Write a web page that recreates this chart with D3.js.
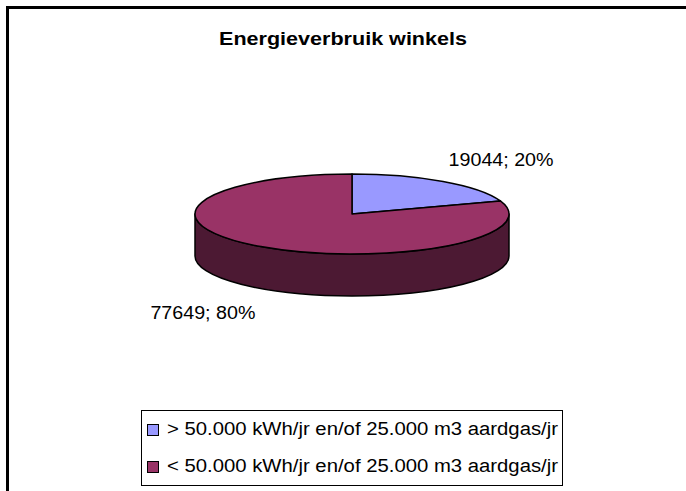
<!DOCTYPE html>
<html>
<head>
<meta charset="utf-8">
<script src="https://cdn.jsdelivr.net/npm/d3@7"></script>
<style>
  body { margin: 0; background: #fff; }
  svg { display: block; font-family: "Liberation Sans", Arial, sans-serif; }
</style>
</head>
<body>
<svg id="chart" width="686" height="491"></svg>
<script>
// data
var categories = ["> 50.000 kWh/jr en/of 25.000 m3 aardgas/jr", "< 50.000 kWh/jr en/of 25.000 m3 aardgas/jr"];
var values = [19044, 77649];
var percentLabels = ["20%", "80%"];
var colors = ["#9999FF", "#993366"];
var sideColors = ["#4C4C80", "#4C1933"];

var svg = d3.select("#chart");

// outer frame
svg.append("rect")
    .attr("x", 7.5).attr("y", 7.5)
    .attr("width", 720).attr("height", 520)
    .attr("fill", "#fff")
    .attr("stroke", "#000")
    .attr("stroke-width", 3);

svg.append("text")
    .attr("x", 343).attr("y", 45)
    .attr("text-anchor", "middle")
    .attr("font-size", 18)
    .attr("font-weight", "bold")
    .attr("textLength", 248)
    .attr("lengthAdjust", "spacingAndGlyphs")
    .text("Energieverbruik winkels");

// 3d pie geometry
var cx = 352, cy = 214, rx = 157, ry = 40, depth = 42;

var pie = d3.pie().sort(null).value(d => d);
var arcs = pie(values);

function pt(a, dy) {
    return [cx + rx * Math.sin(a), cy - ry * Math.cos(a) + (dy || 0)];
}

function topPath(d) {
    var p0 = pt(d.startAngle), p1 = pt(d.endAngle);
    var large = d.endAngle - d.startAngle > Math.PI ? 1 : 0;
    return "M" + cx + "," + cy + "L" + p0 + "A" + rx + "," + ry + " 0 " + large + " 1 " + p1 + "Z";
}

function sidePath(d) {
    // only the front half (pi/2 .. 3pi/2) is visible
    var s = Math.max(d.startAngle, Math.PI / 2),
        e = Math.min(d.endAngle, 3 * Math.PI / 2);
    if (e <= s) return null;
    var a = pt(s), b = pt(e), b2 = pt(e, depth), a2 = pt(s, depth);
    return "M" + a + "A" + rx + "," + ry + " 0 0 1 " + b +
        "L" + b2 + "A" + rx + "," + ry + " 0 0 0 " + a2 + "Z";
}

var g = svg.append("g");

g.selectAll(".side")
    .data(arcs.filter(d => sidePath(d)))
    .enter().append("path")
    .attr("class", "side")
    .attr("d", sidePath)
    .attr("fill", d => sideColors[d.index])
    .attr("stroke", "#000")
    .attr("stroke-width", 1.5)
    .attr("stroke-linejoin", "round");

g.selectAll(".top")
    .data(arcs)
    .enter().append("path")
    .attr("class", "top")
    .attr("d", topPath)
    .attr("fill", d => colors[d.index])
    .attr("stroke", "#000")
    .attr("stroke-width", 1.5)
    .attr("stroke-linejoin", "round");

// data labels
g.selectAll(".lbl")
    .data(arcs)
    .enter().append("text")
    .attr("class", "lbl")
    .attr("x", d => {
        var m = (d.startAngle + d.endAngle) / 2;
        return cx + (rx + 100) * Math.sin(m);
    })
    .attr("y", d => {
        var m = (d.startAngle + d.endAngle) / 2;
        var c = Math.cos(m);
        return cy - (ry + 25) * c + (c < 0 ? depth + 5 : 0);
    })
    .attr("text-anchor", "middle")
    .attr("dominant-baseline", "middle")
    .attr("font-size", 18)
    .attr("textLength", 105)
    .attr("lengthAdjust", "spacingAndGlyphs")
    .text(d => d.data + "; " + percentLabels[d.index]);

// legend
var legend = svg.append("g");
legend.append("rect")
    .attr("x", 141.5).attr("y", 410.5)
    .attr("width", 421).attr("height", 75)
    .attr("fill", "#fff")
    .attr("stroke", "#000")
    .attr("stroke-width", 1);

var rows = legend.selectAll(".row")
    .data(categories)
    .enter().append("g")
    .attr("transform", (d, i) => "translate(0," + (i * 37) + ")");

rows.append("rect")
    .attr("x", 147.5).attr("y", 424.5)
    .attr("width", 11).attr("height", 11)
    .attr("fill", (d, i) => colors[i])
    .attr("stroke", "#000");

rows.append("text")
    .attr("x", 167).attr("y", 435)
    .attr("font-size", 18)
    .attr("textLength", 391)
    .attr("lengthAdjust", "spacingAndGlyphs")
    .text(d => d);
</script>
</body>
</html>
